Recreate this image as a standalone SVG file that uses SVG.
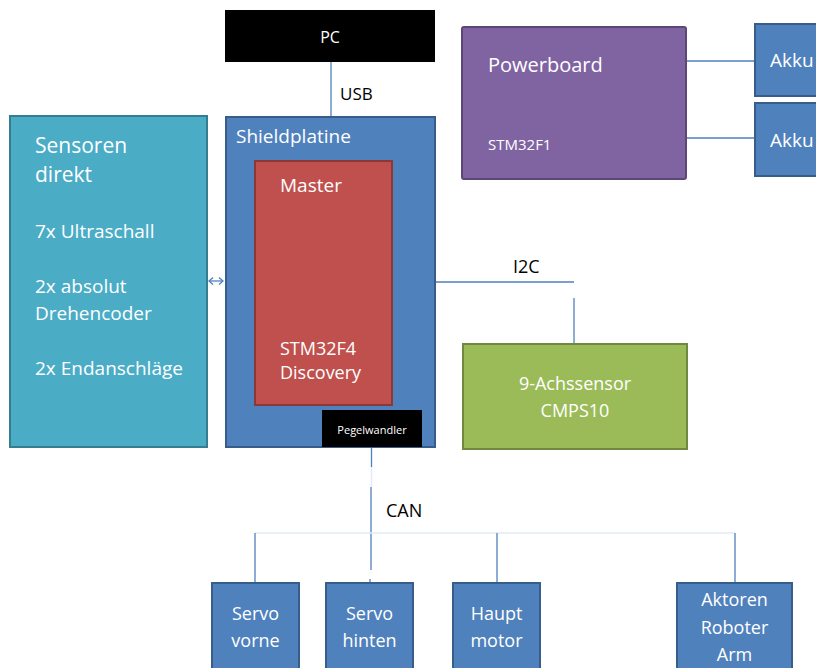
<svg xmlns="http://www.w3.org/2000/svg" width="816" height="668" viewBox="0 0 816 668">
  <style>
    .t { font-family: "Open Sans", "Liberation Sans", sans-serif; fill: #ffffff; }
    .k { font-family: "Open Sans", "Liberation Sans", sans-serif; fill: #000000; }
    .blue { fill: #4F81BD; stroke: #385D8A; stroke-width: 2; }
    .cyan { fill: #4BACC6; stroke: #357D91; stroke-width: 2; }
    .red { fill: #C0504D; stroke: #8C3836; stroke-width: 2; }
    .purple { fill: #8064A2; stroke: #5C4776; stroke-width: 2; }
    .green { fill: #9BBB59; stroke: #71893F; stroke-width: 2; }
    .black { fill: #000000; }
    .wire { stroke: #4F81BD; stroke-width: 1.3; fill: none; }
    .faint { stroke: #E3EBF6; stroke-width: 1.5; fill: none; }
  </style>
  <rect width="816" height="668" fill="#ffffff"/>

  <!-- connectors -->
  <g id="connectors">
    <!-- USB -->
    <line class="wire" x1="331" y1="62" x2="331" y2="117"/>
    <!-- Powerboard to batteries -->
    <line class="wire" x1="686" y1="61" x2="755" y2="61"/>
    <line class="wire" x1="686" y1="138" x2="755" y2="138"/>
    <!-- I2C -->
    <line class="wire" x1="435" y1="282" x2="574" y2="282"/>
    <line class="wire" x1="574" y1="298" x2="574" y2="344"/>
    <!-- direct sensors, bidirectional -->
    <g stroke="#4F81BD" stroke-width="1.3" fill="none">
      <line x1="209" y1="281" x2="223" y2="281"/>
      <polyline points="213,277.5 209,281 213,284.5"/>
      <polyline points="219,277.5 223,281 219,284.5"/>
    </g>
    <!-- CAN trunk -->
    <line class="wire" x1="371.5" y1="447" x2="371.5" y2="467"/>
    <line class="faint" x1="371.5" y1="467" x2="371.5" y2="487"/>
    <line class="wire" x1="371" y1="487" x2="371" y2="570"/>
    <line class="wire" x1="370" y1="579" x2="370" y2="583"/>
    <!-- CAN bus -->
    <line class="faint" x1="255" y1="533" x2="735" y2="533"/>
    <line class="wire" x1="255" y1="533" x2="255" y2="583"/>
    <line class="wire" x1="497" y1="533" x2="497" y2="583"/>
    <line class="wire" x1="735" y1="533" x2="735" y2="583"/>
  </g>

  <g id="pc">
    <rect class="black" x="225" y="10" width="210" height="52"/>
    <text class="t" x="330" y="43" font-size="16" text-anchor="middle">PC</text>
  </g>
  <text class="k" x="340" y="100" font-size="17">USB</text>

  <g id="powerboard">
    <rect class="purple" x="462" y="27" width="224" height="152" rx="2"/>
    <text class="t" x="488" y="72" font-size="20">Powerboard</text>
    <text class="t" x="488" y="150" font-size="15">STM32F1</text>
  </g>

  <g id="akku1">
    <rect class="blue" x="755" y="24" width="80" height="72"/>
    <text class="t" x="770" y="67" font-size="19">Akku</text>
  </g>
  <g id="akku2">
    <rect class="blue" x="755" y="103" width="80" height="73"/>
    <text class="t" x="770" y="147" font-size="19">Akku</text>
  </g>

  <g id="sensoren">
    <rect class="cyan" x="10" y="116" width="197" height="331"/>
    <text class="t" x="35" y="153" font-size="21">Sensoren</text>
    <text class="t" x="35" y="182" font-size="21">direkt</text>
    <text class="t" x="35" y="238" font-size="19">7x Ultraschall</text>
    <text class="t" x="35" y="293" font-size="19">2x absolut</text>
    <text class="t" x="35" y="320" font-size="19">Drehencoder</text>
    <text class="t" x="35" y="375" font-size="19">2x Endanschläge</text>
  </g>

  <g id="shieldplatine">
    <rect class="blue" x="226" y="117" width="209" height="330"/>
    <text class="t" x="236" y="143" font-size="19">Shieldplatine</text>
  </g>

  <g id="master">
    <rect class="red" x="255" y="161" width="137" height="244"/>
    <text class="t" x="280" y="192" font-size="19">Master</text>
    <text class="t" x="280" y="355" font-size="18">STM32F4</text>
    <text class="t" x="280" y="379" font-size="18">Discovery</text>
  </g>

  <g id="pegelwandler">
    <rect class="black" x="322" y="410" width="100" height="37"/>
    <text class="t" x="372" y="434" font-size="11" text-anchor="middle">Pegelwandler</text>
  </g>

  <text class="k" x="513" y="273" font-size="18">I2C</text>

  <g id="achssensor">
    <rect class="green" x="463" y="344" width="224" height="105"/>
    <text class="t" x="575" y="390" font-size="18" text-anchor="middle">9-Achssensor</text>
    <text class="t" x="575" y="417" font-size="18" text-anchor="middle">CMPS10</text>
  </g>

  <text class="k" x="386" y="517" font-size="18">CAN</text>

  <g id="servo-vorne">
    <rect class="blue" x="212" y="583" width="87" height="100"/>
    <text class="t" x="255.5" y="620" font-size="18" text-anchor="middle">Servo</text>
    <text class="t" x="255.5" y="647" font-size="18" text-anchor="middle">vorne</text>
  </g>
  <g id="servo-hinten">
    <rect class="blue" x="326" y="583" width="87" height="100"/>
    <text class="t" x="369.5" y="620" font-size="18" text-anchor="middle">Servo</text>
    <text class="t" x="369.5" y="647" font-size="18" text-anchor="middle">hinten</text>
  </g>
  <g id="hauptmotor">
    <rect class="blue" x="453" y="583" width="87" height="100"/>
    <text class="t" x="496.5" y="620" font-size="18" text-anchor="middle">Haupt</text>
    <text class="t" x="496.5" y="647" font-size="18" text-anchor="middle">motor</text>
  </g>
  <g id="aktoren">
    <rect class="blue" x="677" y="583" width="115" height="100"/>
    <text class="t" x="734.5" y="606" font-size="18" text-anchor="middle">Aktoren</text>
    <text class="t" x="734.5" y="634" font-size="18" text-anchor="middle">Roboter</text>
    <text class="t" x="734.5" y="661" font-size="18" text-anchor="middle">Arm</text>
  </g>
</svg>
